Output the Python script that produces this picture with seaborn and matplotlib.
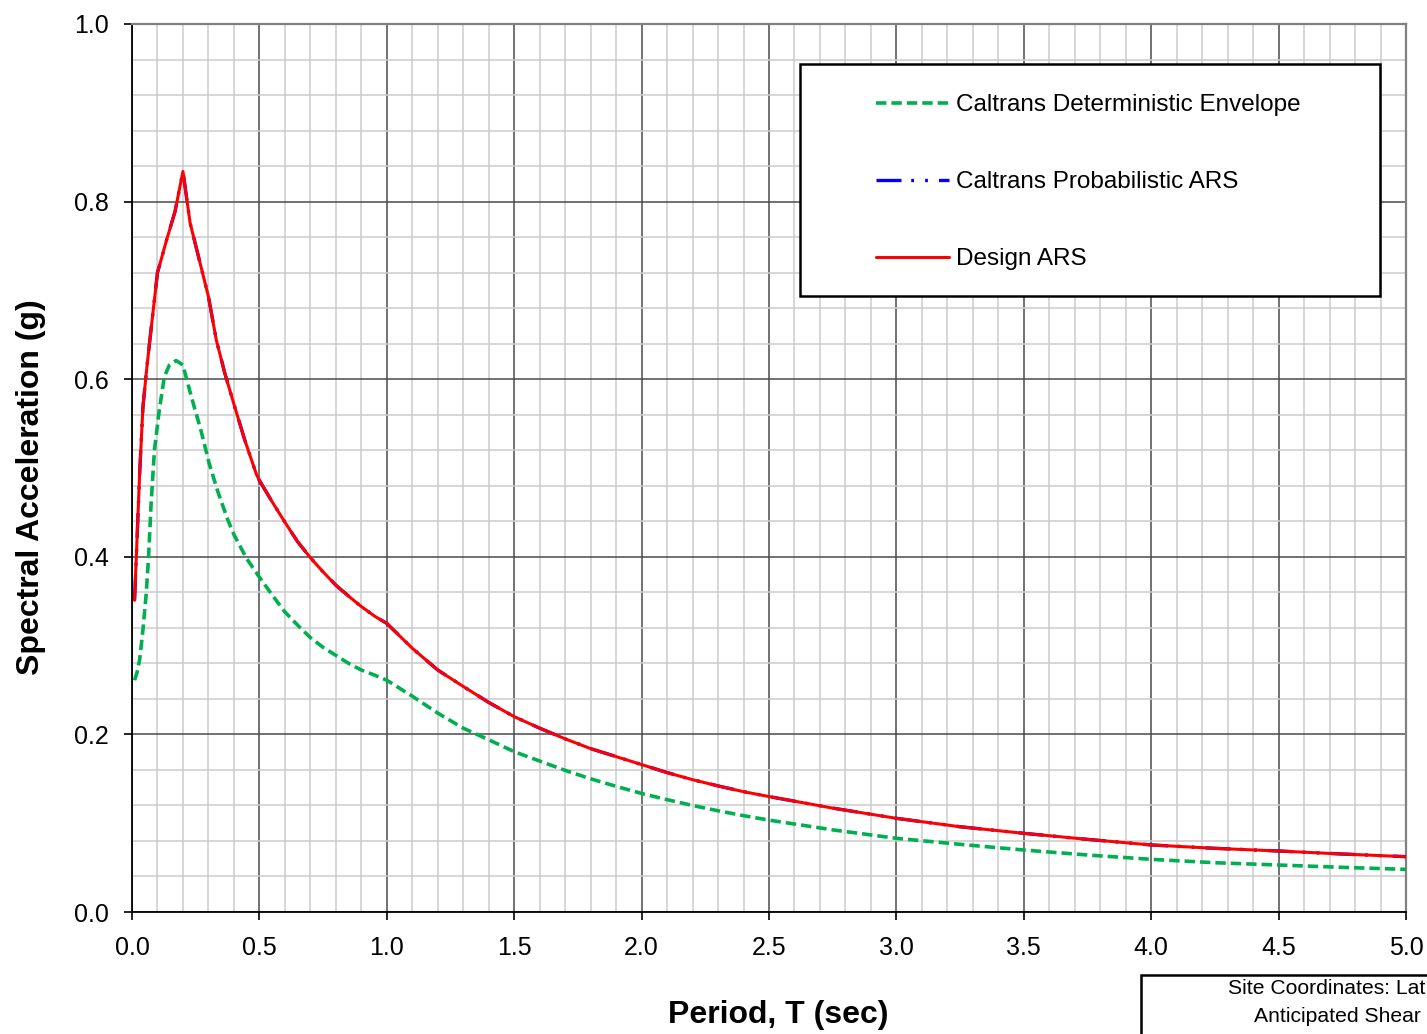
import numpy as np
import pandas as pd
import matplotlib
matplotlib.use("Agg")
import matplotlib.pyplot as plt
from matplotlib.patches import Rectangle
from matplotlib.ticker import MultipleLocator, FormatStrFormatter
import seaborn as sns

# Periods (sec) and spectral accelerations (g)
period_det = [0.01, 0.02, 0.03, 0.043, 0.056, 0.065, 0.075, 0.088, 0.107, 0.127, 0.147, 0.173,
              0.2, 0.218, 0.244, 0.27, 0.303, 0.335, 0.374, 0.4, 0.45, 0.5, 0.55, 0.6,
              0.65, 0.7, 0.75, 0.8, 0.85, 0.9, 0.95, 1.0, 1.1, 1.2, 1.3, 1.4, 1.5,
              1.6, 1.7, 1.8, 1.9, 2.0, 2.1, 2.2, 2.3, 2.4, 2.5, 2.75, 3.0, 3.25,
              3.5, 3.75, 4.0, 4.25, 4.5, 4.75, 5.0]
sa_det = [0.261, 0.270, 0.284, 0.318, 0.359, 0.400, 0.460, 0.520, 0.565, 0.603, 0.616, 0.621,
          0.616, 0.596, 0.569, 0.543, 0.505, 0.475, 0.443, 0.425, 0.398, 0.377, 0.357, 0.338,
          0.323, 0.309, 0.298, 0.289, 0.280, 0.2725, 0.267, 0.261, 0.243, 0.224, 0.207, 0.194, 0.1805,
          0.170, 0.1595, 0.150, 0.1415, 0.1335, 0.1265, 0.120, 0.114, 0.1085, 0.1035, 0.0925, 0.083, 0.0762,
          0.0698, 0.0642, 0.0593, 0.0555, 0.0529, 0.0503, 0.048]

period_ars = [0.01, 0.017, 0.03, 0.043, 0.056, 0.07, 0.1, 0.136, 0.169, 0.2, 0.228, 0.267,
              0.3, 0.331, 0.364, 0.403, 0.442, 0.488, 0.5, 0.552, 0.6, 0.65, 0.7, 0.75,
              0.8, 0.853, 0.9, 0.953, 1.0, 1.1, 1.2, 1.3, 1.4, 1.5, 1.6, 1.7, 1.8,
              1.9, 2.0, 2.1, 2.2, 2.3, 2.4, 2.5, 2.75, 3.0, 3.25, 3.5, 3.75, 4.0,
              4.25, 4.5, 4.75, 5.0]
sa_prob = [0.351, 0.400, 0.494, 0.569, 0.607, 0.644, 0.720, 0.757, 0.789, 0.834, 0.776, 0.731,
           0.693, 0.644, 0.607, 0.569, 0.532, 0.493, 0.486, 0.461, 0.439, 0.417, 0.399, 0.383,
           0.368, 0.355, 0.344, 0.333, 0.325, 0.297, 0.2725, 0.254, 0.236, 0.220, 0.207, 0.195, 0.184,
           0.175, 0.166, 0.157, 0.149, 0.142, 0.1355, 0.130, 0.117, 0.1055, 0.096, 0.0886, 0.0818, 0.0755,
           0.0717, 0.0687, 0.0653, 0.0623]
sa_design = list(sa_prob)

labels = ["Caltrans Deterministic Envelope", "Caltrans Probabilistic ARS", "Design ARS"]
site_lines = ["Site Coordinates: Lat", "Anticipated Shear"]

sns.set_theme(style="white")
plt.rcParams["font.family"] = ["Liberation Sans", "DejaVu Sans"]
plt.rcParams["lines.scale_dashes"] = False
for key in ("text.color", "axes.labelcolor", "xtick.color", "ytick.color"):
    plt.rcParams[key] = "black"

W, H = 1427, 1034
fig = plt.figure(figsize=(W / 100, H / 100), dpi=100)
ax = fig.add_axes([132 / W, 1 - 912 / H, (1406 - 132) / W, (912 - 24) / H])

df_det = pd.DataFrame({"T": period_det, "SA": sa_det})
df_prob = pd.DataFrame({"T": period_ars, "SA": sa_prob})
df_design = pd.DataFrame({"T": period_ars, "SA": sa_design})

sns.lineplot(data=df_det, x="T", y="SA", ax=ax, color="#00b050", lw=2.6,
             linestyle=(0, (7.5, 3.6)), label=labels[0], sort=False, zorder=3)
sns.lineplot(data=df_prob, x="T", y="SA", ax=ax, color="#0000ff", lw=2.4,
             linestyle=(0, (18, 7, 2, 8, 2, 8)), label=labels[1], sort=False, zorder=3)
sns.lineplot(data=df_design, x="T", y="SA", ax=ax, color="#ff0000", lw=2.2,
             label=labels[2], sort=False, zorder=4)

ax.set_xlim(0, 5.0)
ax.set_ylim(0, 1.0)
ax.xaxis.set_major_locator(MultipleLocator(0.5))
ax.xaxis.set_minor_locator(MultipleLocator(0.1))
ax.yaxis.set_major_locator(MultipleLocator(0.2))
ax.yaxis.set_minor_locator(MultipleLocator(0.04))
ax.xaxis.set_major_formatter(FormatStrFormatter("%.1f"))
ax.yaxis.set_major_formatter(FormatStrFormatter("%.1f"))

ax.grid(which="minor", color="#cccccc", lw=1.1, zorder=0)
ax.grid(which="major", color="#4a4a4a", lw=1.1, zorder=1)
ax.set_axisbelow(True)

ax.tick_params(which="major", direction="out", length=6, width=1.2, color="black",
               labelsize=18, pad=11, left=True, bottom=True)
ax.tick_params(which="minor", length=0)

for side in ("left", "bottom"):
    ax.spines[side].set_color("black")
    ax.spines[side].set_linewidth(1.3)
for side in ("top", "right"):
    ax.spines[side].set_color("#808080")
    ax.spines[side].set_linewidth(1.6)

ax.set_xlabel("Period, T (sec)", fontsize=23, fontweight="bold")
ax.set_ylabel("Spectral Acceleration (g)", fontsize=23, fontweight="bold")
ax.xaxis.label.set_va("center")
ax.yaxis.label.set_va("center")
ax.xaxis.set_label_coords((778 - 132) / 1274, (912 - 1015) / 888)
ax.yaxis.set_label_coords((31 - 132) / 1274, (912 - 487) / 888)

# Legend box
ax.add_patch(Rectangle((800 / W, 1 - 296 / H), 580 / W, 232 / H, transform=fig.transFigure,
                       facecolor="white", edgecolor="black", lw=1.8, zorder=5, clip_on=False))
leg = ax.legend(loc="upper left", bbox_to_anchor=(876 / W, 1 - 94 / H),
                bbox_transform=fig.transFigure, frameon=False, fontsize=17.5,
                handlelength=3.0, handletextpad=0.3, labelspacing=2.27, borderpad=0,
                borderaxespad=0)
leg.set_zorder(6)

# Site information box
fig.patches.append(Rectangle((1141 / W, -0.05), 400 / W, (1034 - 975) / H + 0.05,
                             transform=fig.transFigure, facecolor="white",
                             edgecolor="black", lw=1.8))
fig.text(1228 / W, 1 - 989 / H, site_lines[0], fontsize=15.2, ha="left", va="center")
fig.text(1254 / W, 1 - 1016 / H, site_lines[1], fontsize=15.2, ha="left", va="center")

fig.savefig("out.png", dpi=100)
